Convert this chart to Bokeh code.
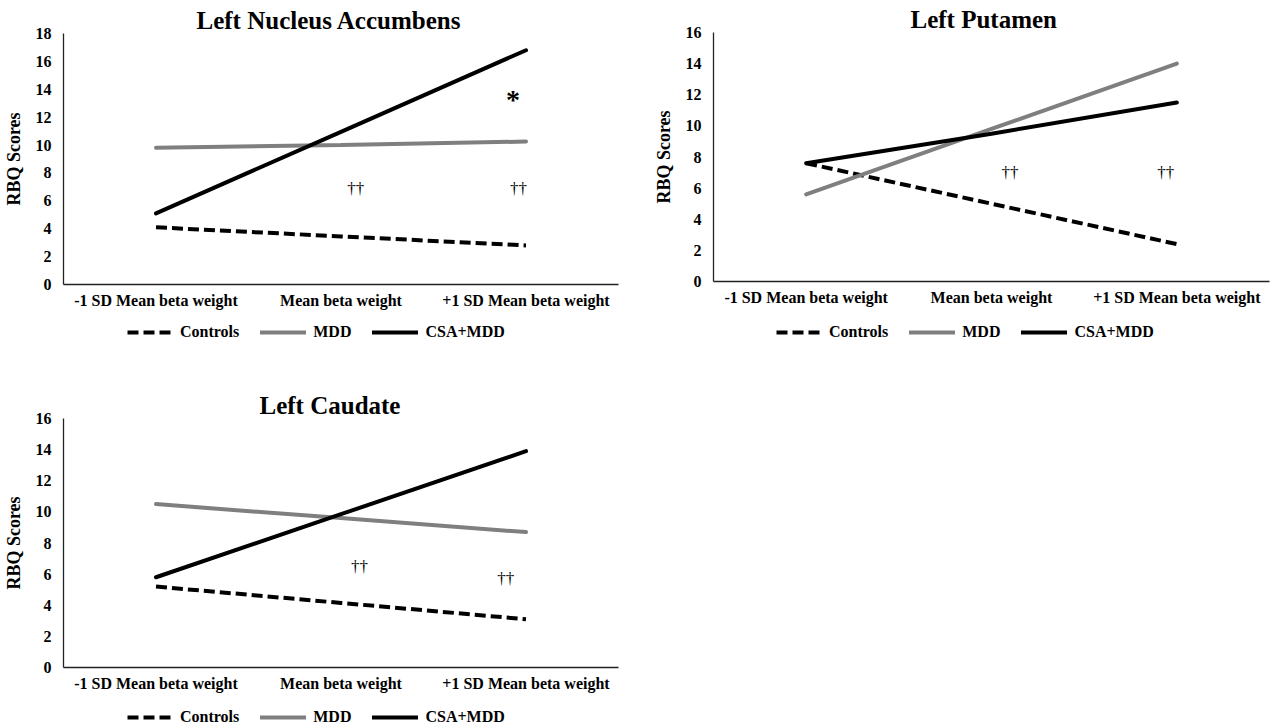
from bokeh.plotting import figure
from bokeh.models import FactorRange, Range1d, Legend, LegendItem, ColumnDataSource, FixedTicker
from bokeh.layouts import column, row
from bokeh.embed import file_html
from bokeh.resources import INLINE
from bokeh.core.properties import value

# ---------------- data ----------------
categories = ["-1 SD Mean beta weight", "Mean beta weight", "+1 SD Mean beta weight"]
series_names = ["Controls", "MDD", "CSA+MDD"]

nacc_controls = [4.1, 3.45, 2.8]
nacc_mdd = [9.8, 10.0, 10.25]
nacc_csa = [5.1, 10.95, 16.8]

put_controls = [7.6, 5.0, 2.4]
put_mdd = [5.6, 9.8, 14.0]
put_csa = [7.6, 9.5, 11.5]

cau_controls = [5.2, 4.15, 3.1]
cau_mdd = [10.5, 9.6, 8.7]
cau_csa = [5.8, 9.85, 13.9]

nacc_ticks = [0, 2, 4, 6, 8, 10, 12, 14, 16, 18]
put_ticks = [0, 2, 4, 6, 8, 10, 12, 14, 16]
cau_ticks = [0, 2, 4, 6, 8, 10, 12, 14, 16]

# significance marks: text, x (in category units, 0..3), y (score)
nacc_mark_text = ["\u2020\u2020", "\u2020\u2020", "*"]
nacc_mark_x = [1.58, 2.46, 2.43]
nacc_mark_y = [6.9, 6.9, 13.3]

put_mark_text = ["\u2020\u2020", "\u2020\u2020"]
put_mark_x = [1.60, 2.44]
put_mark_y = [7.0, 7.0]

cau_mark_text = ["\u2020\u2020", "\u2020\u2020"]
cau_mark_x = [1.60, 2.39]
cau_mark_y = [6.5, 5.7]

FONT = "Liberation Serif"
GREY = "#7f7f7f"
STYLES = [dict(line_color="black", line_width=4, line_dash="11 5"),
          dict(line_color=GREY, line_width=4, line_cap="round"),
          dict(line_color="black", line_width=4, line_cap="round")]


def make_panel(title, ctrl, mdd, csa, ymax, ticks, mtext, mx, my,
               width, height, bl, br, bt, bb, title_offset):
    p = figure(x_range=FactorRange(factors=categories, range_padding=0),
               y_range=Range1d(0, ymax),
               width=width, height=height,
               min_border_left=bl, min_border_right=br,
               min_border_top=bt, min_border_bottom=bb,
               output_backend="svg", toolbar_location=None,
               background_fill_color="white", border_fill_color="white")
    p.outline_line_color = None
    p.xgrid.visible = False
    p.ygrid.visible = False

    p.title.text = title
    p.title.text_font = FONT
    p.title.text_font_size = "25px"
    p.title.text_font_style = "bold"
    p.title.text_color = "black"
    p.title.align = "left"
    p.title.offset = title_offset
    p.title.standoff = 0

    for ax in (p.xaxis[0], p.yaxis[0]):
        ax.axis_line_color = "#222222"
        ax.axis_line_width = 1.3
        ax.major_tick_line_color = None
        ax.minor_tick_line_color = None
        ax.major_tick_out = 0
        ax.major_tick_in = 0
        ax.major_label_text_font = FONT
        ax.major_label_text_font_size = "16px"
        ax.major_label_text_font_style = "bold"
        ax.major_label_text_color = "black"

    p.yaxis.ticker = FixedTicker(ticks=ticks)
    p.yaxis.major_label_standoff = 12
    p.yaxis.axis_label = "RBQ Scores"
    p.yaxis.axis_label_text_font = FONT
    p.yaxis.axis_label_text_font_size = "18px"
    p.yaxis.axis_label_text_font_style = "bold"
    p.yaxis.axis_label_text_color = "black"
    p.yaxis.axis_label_standoff = 9
    p.xaxis.major_label_standoff = 7

    for vals, st in zip((ctrl, mdd, csa), STYLES):
        p.line(x=categories, y=vals, **st)

    sizes = ["28px" if t == "*" else "17px" for t in mtext]
    styles = ["bold" if t == "*" else "normal" for t in mtext]
    src = ColumnDataSource(dict(x=mx, y=my, text=mtext, size=sizes, style=styles))
    p.text(x="x", y="y", text="text", source=src, text_font=value(FONT),
           text_font_size="size", text_font_style="style",
           text_align="center", text_baseline="middle", text_color="black")
    return p


def make_legend(width, height, loc, ctrl, mdd, csa):
    # a strip below each chart that holds only the legend; its y-range is
    # chosen so that the series themselves stay out of view here
    lf = figure(width=width, height=height,
                x_range=FactorRange(factors=categories, range_padding=0),
                y_range=Range1d(-2, -1),
                x_axis_location=None, y_axis_location=None, min_border=0,
                output_backend="svg", toolbar_location=None,
                background_fill_color="white", border_fill_color="white")
    lf.outline_line_color = None
    lf.grid.visible = False
    rs = [lf.line(x=categories, y=vals, **st) for vals, st in zip((ctrl, mdd, csa), STYLES)]
    legend = Legend(items=[LegendItem(label=n, renderers=[r]) for n, r in zip(series_names, rs)],
                    orientation="horizontal", location=loc,
                    label_text_font=FONT, label_text_font_size="16px",
                    label_text_font_style="bold", label_text_color="black",
                    glyph_width=46, glyph_height=16, label_standoff=7,
                    spacing=21, padding=0, margin=0,
                    border_line_color=None, background_fill_alpha=0)
    lf.add_layout(legend)
    return lf


p1 = make_panel("Left Nucleus Accumbens", nacc_controls, nacc_mdd, nacc_csa, 18,
                nacc_ticks, nacc_mark_text, nacc_mark_x, nacc_mark_y,
                640, 316, 62, 22, 33, 32, 133)
l1 = make_legend(640, 44, (64, 19), nacc_controls, nacc_mdd, nacc_csa)
p2 = make_panel("Left Putamen", put_controls, put_mdd, put_csa, 16,
                put_ticks, put_mark_text, put_mark_x, put_mark_y,
                631, 316, 73, 2, 32, 35, 197)
l2 = make_legend(631, 44, (63, 19), put_controls, put_mdd, put_csa)
p3 = make_panel("Left Caudate", cau_controls, cau_mdd, cau_csa, 16,
                cau_ticks, cau_mark_text, cau_mark_x, cau_mark_y,
                640, 334, 62, 22, 58, 27, 196)
l3 = make_legend(640, 32, (64, 0), cau_controls, cau_mdd, cau_csa)

layout = column(row(column(p1, l1), column(p2, l2)), row(column(p3, l3)))
open("out.html", "w").write(file_html(layout, INLINE))
